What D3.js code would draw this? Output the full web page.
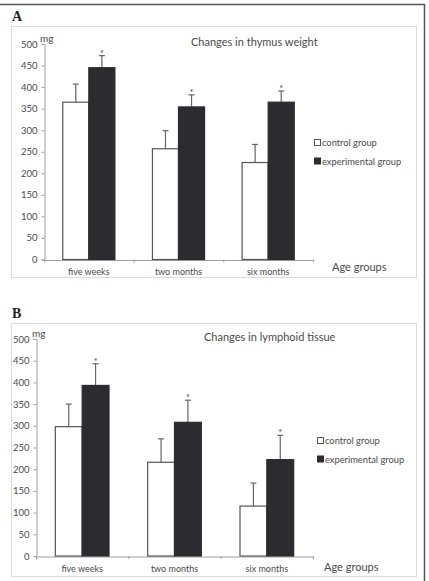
<!DOCTYPE html>
<html>
<head>
<meta charset="utf-8">
<script src="https://cdn.jsdelivr.net/npm/d3@7"></script>
<style>
  body { margin: 0; background: #fff; }
  text { font-family: Lato, "Open Sans", sans-serif; fill: #4a4a4a; }
</style>
</head>
<body>
<div id="chart"></div>
<script>
// chart data
var categories = ["five weeks", "two months", "six months"];
var groups = ["control group", "experimental group"];
var yTicks = [0, 50, 100, 150, 200, 250, 300, 350, 400, 450, 500];

// panel A - thymus weight (mg)
var thymusControl = [365, 257, 225];
var thymusControlErr = [42, 42, 42];
var thymusExp = [445, 354, 365];
var thymusExpErr = [28, 28, 26];

// panel B - lymphoid tissue (mg)
var lymphControl = [298, 216, 115];
var lymphControlErr = [52, 54, 53];
var lymphExp = [393, 308, 222];
var lymphExpErr = [50, 51, 56];

var svg = d3.select("#chart")
    .append("svg")
    .attr("width", 429)
    .attr("height", 581);

// outer frame (top and right edges)
svg.append("path")
    .attr("d", "M0,4.5H424.5V581")
    .attr("fill", "none")
    .attr("stroke", "#555")
    .attr("stroke-width", 1.5);

function drawPanel(p) {
    var g = svg.append("g");

    // panel letter
    g.append("text")
        .attr("x", p.letterX)
        .attr("y", p.letterY)
        .style("font-family", "'Liberation Serif', serif")
        .style("font-weight", "bold")
        .style("font-size", "14px")
        .style("fill", "#222")
        .text(p.letter);

    // light frame around the chart
    g.append("rect")
        .attr("x", p.box[0] + 0.5)
        .attr("y", p.box[1] + 0.5)
        .attr("width", p.box[2] - p.box[0])
        .attr("height", p.box[3] - p.box[1])
        .attr("fill", "none")
        .attr("stroke", "#dcdcdc");

    var y = d3.scaleLinear().domain([0, 500]).range([p.y0, p.y500]);
    var x0 = d3.scaleBand().domain(categories).range([p.xLeft, p.xRight]);
    var x1 = d3.scaleBand().domain(groups).range([0, x0.bandwidth()]).paddingOuter(0.72);

    // y axis
    var yAxis = g.append("g")
        .attr("transform", `translate(${p.xLeft + 0.5},0)`)
        .call(d3.axisLeft(y).tickValues(yTicks).tickSize(3).tickPadding(4));
    yAxis.select(".domain").attr("stroke", "#a0a0a0");
    yAxis.selectAll(".tick line").attr("stroke", "#a0a0a0");
    yAxis.selectAll(".tick text")
        .style("font-family", "Lato, sans-serif")
        .style("font-size", "9.5px")
        .attr("fill", "#555");

    // "mg" unit next to the top tick
    g.append("text")
        .attr("x", p.xLeft - 4)
        .attr("y", p.y500 - 2)
        .style("font-size", "10px")
        .text("mg");

    // x axis
    var xAxis = g.append("g")
        .attr("transform", `translate(0,${p.y0 + 0.5})`)
        .call(d3.axisBottom(x0).tickSize(0).tickSizeOuter(0).tickPadding(9));
    xAxis.select(".domain").attr("stroke", "#a0a0a0");
    xAxis.selectAll(".tick text")
        .style("font-family", "Lato, sans-serif")
        .style("font-size", "9px")
        .attr("fill", "#555");

    // small category boundary ticks
    g.selectAll(".sep")
        .data(categories.concat(["end"]))
        .enter()
        .append("line")
        .attr("x1", (d, i) => i < 3 ? x0(d) + 0.5 : p.xRight + 0.5)
        .attr("x2", (d, i) => i < 3 ? x0(d) + 0.5 : p.xRight + 0.5)
        .attr("y1", p.y0)
        .attr("y2", p.y0 + 3)
        .attr("stroke", "#a0a0a0");

    var rows = categories.map(function(c, i) {
        return [
            { cat: c, grp: groups[0], v: p.control[i], e: p.controlErr[i] },
            { cat: c, grp: groups[1], v: p.exp[i], e: p.expErr[i] }
        ];
    });
    var flat = [].concat.apply([], rows);

    // error bars (upper half only)
    var cx = d => x0(d.cat) + x1(d.grp) + x1.bandwidth() / 2;
    g.selectAll(".err")
        .data(flat)
        .enter()
        .append("line")
        .attr("x1", cx)
        .attr("x2", cx)
        .attr("y1", d => y(d.v))
        .attr("y2", d => y(d.v + d.e))
        .attr("stroke", "#666")
        .attr("stroke-width", 1.2);
    g.selectAll(".cap")
        .data(flat)
        .enter()
        .append("line")
        .attr("x1", d => cx(d) - 3)
        .attr("x2", d => cx(d) + 3)
        .attr("y1", d => y(d.v + d.e))
        .attr("y2", d => y(d.v + d.e))
        .attr("stroke", "#666")
        .attr("stroke-width", 1.2);

    // bars
    g.selectAll(".bar")
        .data(flat)
        .enter()
        .append("rect")
        .attr("x", d => x0(d.cat) + x1(d.grp))
        .attr("y", d => y(d.v))
        .attr("width", x1.bandwidth())
        .attr("height", d => y(0) - y(d.v))
        .attr("fill", d => d.grp === groups[0] ? "#fff" : "#2b2b30")
        .attr("stroke", d => d.grp === groups[0] ? "#555" : "#2b2b30")
        .attr("stroke-width", 1.2);

    // significance stars
    g.selectAll(".star")
        .data(flat.filter(d => d.grp === groups[1]))
        .enter()
        .append("text")
        .attr("x", cx)
        .attr("y", d => y(d.v + d.e) + 1)
        .attr("text-anchor", "middle")
        .style("font-size", "9px")
        .style("fill", "#444")
        .text("*");

    // title
    g.append("text")
        .attr("x", p.titleX)
        .attr("y", p.titleY)
        .style("font-size", "11px")
        .text(p.title);

    // axis name
    g.append("text")
        .attr("x", p.ageX)
        .attr("y", p.ageY)
        .style("font-size", "11px")
        .text("Age groups");

    // legend
    var leg = g.selectAll(".leg")
        .data(groups)
        .enter()
        .append("g")
        .attr("transform", (d, i) => `translate(${p.legX},${p.legY + i * p.legStep})`);
    leg.append("rect")
        .attr("x", 0.5)
        .attr("y", -6.5)
        .attr("width", 6)
        .attr("height", 6)
        .attr("fill", (d, i) => i === 0 ? "#fff" : "#2b2b30")
        .attr("stroke", (d, i) => i === 0 ? "#555" : "#2b2b30");
    leg.append("text")
        .attr("x", 8)
        .attr("y", 0)
        .style("font-size", "9.3px")
        .text(d => d);
}

drawPanel({
    letter: "A", letterX: 12, letterY: 21,
    box: [11, 26, 416, 277],
    xLeft: 44, xRight: 313, y0: 259.5, y500: 44,
    control: thymusControl, controlErr: thymusControlErr,
    exp: thymusExp, expErr: thymusExpErr,
    title: "Changes in thymus weight", titleX: 191, titleY: 46,
    ageX: 332, ageY: 271,
    legX: 314, legY: 146, legStep: 18.5
});

drawPanel({
    letter: "B", letterX: 12, letterY: 318,
    box: [11, 323, 416, 576],
    xLeft: 36, xRight: 313, y0: 556, y500: 339,
    control: lymphControl, controlErr: lymphControlErr,
    exp: lymphExp, expErr: lymphExpErr,
    title: "Changes in lymphoid tissue", titleX: 204, titleY: 341,
    ageX: 324, ageY: 571,
    legX: 317, legY: 444, legStep: 18.5
});
</script>
</body>
</html>
